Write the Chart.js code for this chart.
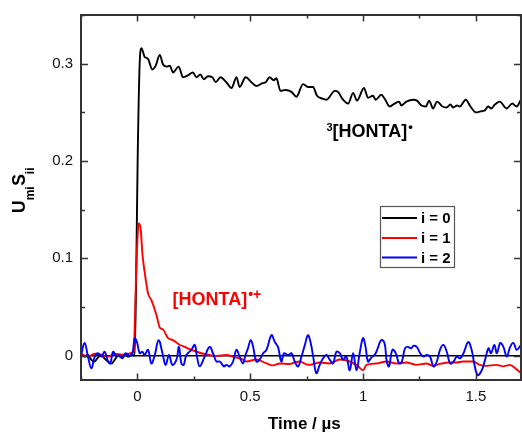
<!DOCTYPE html>
<html>
<head>
<meta charset="utf-8">
<script src="https://cdn.jsdelivr.net/npm/chart.js@4.4.1/dist/chart.umd.min.js"></script>
<style>
  html, body { margin: 0; padding: 0; background: #fff; }
  #wrap { width: 522px; height: 433px; position: relative; }
</style>
</head>
<body>
<div id="wrap"><canvas id="chart"></canvas></div>
<script>
// Time axis (µs) and U_mi S_ii traces for i = 0, 1, 2
const blackT = [
  -0.25, -0.235, -0.22, -0.205, -0.19, -0.175, -0.16, -0.145, -0.13, -0.115,
  -0.1, -0.085, -0.07, -0.055, -0.04, -0.025, -0.012, -0.0045, 0.001, 0.01,
  0.018, 0.032, 0.047, 0.066, 0.081, 0.099, 0.114, 0.131, 0.143, 0.158,
  0.183, 0.202, 0.224, 0.246, 0.262, 0.279, 0.294, 0.313, 0.332, 0.347,
  0.368, 0.394, 0.417, 0.439, 0.453, 0.48, 0.505, 0.527, 0.554, 0.569,
  0.586, 0.604, 0.616, 0.634, 0.657, 0.683, 0.705, 0.734, 0.756, 0.778,
  0.796, 0.82, 0.838, 0.875, 0.889, 0.911, 0.934, 0.956, 0.973, 1.004,
  1.022, 1.044, 1.056, 1.081, 1.096, 1.118, 1.14, 1.16, 1.17, 1.192,
  1.222, 1.239, 1.259, 1.278, 1.293, 1.31, 1.328, 1.352, 1.37, 1.387,
  1.399, 1.417, 1.429, 1.455, 1.476, 1.5, 1.52, 1.54, 1.554, 1.569,
  1.584, 1.606, 1.636, 1.662, 1.68, 1.7
];
const blackV = [
  0.002, -0.001, 0.001, -0.004, -0.006, -0.002, 0.001, -0.003, -0.006, -0.008,
  -0.004, 0, -0.002, 0.001, -0.001, 0.001, 0, 0.1, 0.2, 0.3,
  0.316, 0.307, 0.305, 0.294, 0.298, 0.309, 0.299, 0.297, 0.298, 0.291,
  0.297, 0.286, 0.288, 0.291, 0.286, 0.289, 0.284, 0.287, 0.286, 0.281,
  0.286, 0.281, 0.275, 0.286, 0.276, 0.286, 0.281, 0.277, 0.28, 0.281,
  0.286, 0.283, 0.285, 0.272, 0.273, 0.271, 0.266, 0.279, 0.276, 0.276,
  0.267, 0.264, 0.263, 0.272, 0.271, 0.263, 0.259, 0.27, 0.262, 0.275,
  0.265, 0.267, 0.263, 0.268, 0.264, 0.256, 0.259, 0.261, 0.257, 0.261,
  0.263, 0.262, 0.257, 0.256, 0.262, 0.254, 0.261, 0.256, 0.255, 0.258,
  0.255, 0.257, 0.256, 0.263, 0.256, 0.25, 0.251, 0.252, 0.256, 0.254,
  0.258, 0.261, 0.254, 0.259, 0.256, 0.263
];

const redT = [
  -0.25, -0.22, -0.19, -0.16, -0.13, -0.1, -0.07, -0.04, -0.025, -0.016,
  -0.009, -0.002, 0.006, 0.015, 0.022, 0.032, 0.047, 0.062, 0.084, 0.099,
  0.113, 0.136, 0.158, 0.188, 0.21, 0.232, 0.262, 0.291, 0.32, 0.35,
  0.394, 0.424, 0.468, 0.483, 0.527, 0.572, 0.601, 0.631, 0.675, 0.719,
  0.749, 0.764, 0.808, 0.852, 0.897, 0.941, 0.978, 1.0, 1.015, 1.059,
  1.104, 1.148, 1.192, 1.237, 1.281, 1.31, 1.34, 1.384, 1.414, 1.443,
  1.488, 1.517, 1.547, 1.591, 1.621, 1.65, 1.68, 1.7
];
const redV = [
  0.002, -0.001, 0.002, 0.001, -0.001, 0.002, 0.001, 0.002, 0.003, 0.005,
  0.057, 0.108, 0.136, 0.129, 0.105, 0.086, 0.064, 0.057, 0.042, 0.029,
  0.027, 0.018, 0.016, 0.011, 0.009, 0.0066, 0.004, 0.002, 0.0007, -0.0003,
  0.0007, -0.001, -0.004, -0.006, -0.004, -0.008, -0.01, -0.008, -0.0085, -0.006,
  -0.009, -0.0095, -0.007, -0.008, -0.004, -0.006, -0.011, -0.015, -0.0095, -0.008,
  -0.006, -0.008, -0.007, -0.0095, -0.008, -0.0105, -0.0085, -0.007, -0.007, -0.006,
  -0.006, -0.0095, -0.0105, -0.0095, -0.011, -0.0095, -0.014, -0.018
];

const blueT = [
  -0.25, -0.234, -0.219, -0.204, -0.189, -0.175, -0.16, -0.145, -0.13, -0.12,
  -0.108, -0.093, -0.082, -0.066, -0.052, -0.034, -0.022, -0.012, -0.002, 0.01,
  0.022, 0.032, 0.047, 0.062, 0.077, 0.094, 0.111, 0.125, 0.14, 0.155,
  0.173, 0.184, 0.195, 0.205, 0.217, 0.239, 0.254, 0.264, 0.276, 0.298,
  0.32, 0.335, 0.35, 0.365, 0.383, 0.394, 0.409, 0.424, 0.439, 0.453,
  0.468, 0.479, 0.49, 0.502, 0.513, 0.527, 0.542, 0.557, 0.572, 0.594,
  0.609, 0.623, 0.638, 0.65, 0.668, 0.683, 0.697, 0.712, 0.727, 0.742,
  0.756, 0.768, 0.779, 0.793, 0.808, 0.823, 0.838, 0.852, 0.867, 0.882,
  0.897, 0.911, 0.926, 0.941, 0.956, 0.971, 0.985, 1.0, 1.011, 1.022,
  1.034, 1.056, 1.08, 1.095, 1.105, 1.115, 1.13, 1.145, 1.16, 1.172,
  1.186, 1.198, 1.213, 1.223, 1.238, 1.253, 1.268, 1.282, 1.297, 1.312,
  1.327, 1.341, 1.356, 1.371, 1.386, 1.401, 1.415, 1.43, 1.445, 1.466,
  1.481, 1.494, 1.508, 1.526, 1.541, 1.556, 1.567, 1.582, 1.593, 1.608,
  1.622, 1.637, 1.652, 1.667, 1.681, 1.7
];
const blueV = [
  0.0, 0.013, -0.001, -0.013, -0.001, 0.0025, -0.001, 0.004, -0.006, -0.008,
  0.004, -0.001, 0.0007, -0.0027, 0.0025, -0.0003, 0.0025, 0.018, 0.014, 0.0025,
  0.004, 0.0007, 0.006, -0.008, 0.0007, 0.016, 0.0025, -0.0095, 0.0007, -0.0095,
  -0.004, 0.009, -0.008, -0.0095, 0.0007, 0.006, 0.011, -0.001, -0.011, -0.001,
  0.009, 0.0025, -0.006, -0.006, -0.011, -0.0095, -0.011, -0.006, 0.006, -0.001,
  -0.008, 0.0007, 0.0076, 0.016, 0.009, -0.006, -0.004, 0.0025, 0.006, 0.021,
  0.014, 0.009, -0.006, 0.0025, 0.0007, 0.0025, -0.006, -0.011, -0.001, 0.011,
  0.021, 0.013, -0.001, -0.018, -0.0095, -0.0027, 0.0007, -0.004, -0.008, 0.004,
  0.0025, -0.004, -0.001, -0.015, 0.0025, -0.015, 0.0025, 0.018, 0.009, -0.006,
  -0.0027, 0.0025, 0.016, 0.013, -0.006, -0.011, 0.006, 0.0025, -0.008, -0.006,
  0.0076, 0.009, 0.0076, 0.01, 0.009, 0.0025, -0.001, 0.0007, -0.001, -0.011,
  -0.006, 0.006, 0.011, 0.004, -0.008, -0.006, -0.001, -0.0027, 0.0025, 0.014,
  0.006, -0.0095, -0.02, -0.015, -0.004, 0.0076, 0.0025, 0.011, 0.0025, 0.013,
  0.009, -0.001, 0.009, 0.013, 0.006, 0.011
];

const seriesLabels = ["i = 0", "i = 1", "i = 2"];
const seriesColors = ["#000000", "#ff0000", "#0000ff"];

const xTickValues = [-0.25, 0, 0.25, 0.5, 0.75, 1, 1.25, 1.5];
const yTickValues = [0, 0.05, 0.1, 0.15, 0.2, 0.25, 0.3, 0.35];

const FONT = 'Arial, "Liberation Sans", sans-serif';

function toPoints(ts, vs) {
  return ts.map((t, i) => ({ x: t, y: vs[i] }));
}

function isMajor(v, step) {
  const r = v / step;
  return Math.abs(r - Math.round(r)) < 1e-6;
}

// Box frame, inward ticks on all four sides and the zero line
const framePlugin = {
  id: "frame",
  beforeDatasetsDraw(chart) {
    const { ctx, chartArea: a, scales } = chart;
    const y0 = scales.y.getPixelForValue(0);
    ctx.save();
    ctx.strokeStyle = "#000";
    ctx.lineWidth = 1.5;
    ctx.beginPath();
    ctx.moveTo(a.left, y0);
    ctx.lineTo(a.right, y0);
    ctx.stroke();
    ctx.restore();
  },
  afterDatasetsDraw(chart) {
    const { ctx, chartArea: a, scales } = chart;
    ctx.save();
    ctx.strokeStyle = "#333";
    ctx.lineWidth = 2;
    ctx.strokeRect(a.left, a.top, a.right - a.left, a.bottom - a.top);

    ctx.lineWidth = 1.5;
    ctx.beginPath();
    xTickValues.forEach((v) => {
      const px = Math.round(scales.x.getPixelForValue(v)) + 0.5;
      const len = isMajor(v, 0.5) ? 6.5 : 3.5;
      ctx.moveTo(px, a.bottom);
      ctx.lineTo(px, a.bottom - len);
      ctx.moveTo(px, a.top);
      ctx.lineTo(px, a.top + len);
    });
    yTickValues.forEach((v) => {
      const py = Math.round(scales.y.getPixelForValue(v)) + 0.5;
      const len = isMajor(v, 0.1) ? 7 : 4;
      ctx.moveTo(a.left, py);
      ctx.lineTo(a.left + len, py);
      ctx.moveTo(a.right, py);
      ctx.lineTo(a.right - len, py);
    });
    ctx.stroke();
    ctx.restore();
  },
  afterDraw(chart) {
    const ctx = chart.ctx;
    ctx.save();
    ctx.fillStyle = "#000";
    ctx.textBaseline = "alphabetic";

    // y axis title: U_mi S_ii, rotated
    ctx.translate(25, 213);
    ctx.rotate(-Math.PI / 2);
    let x = 0;
    const parts = [["U", false], ["mi", true], ["S", false], ["ii", true]];
    parts.forEach(([txt, sub]) => {
      ctx.font = sub ? "bold 12px " + FONT : "bold 17.5px " + FONT;
      ctx.fillText(txt, x, sub ? 8.5 : 0);
      x += ctx.measureText(txt).width + (sub ? 0.5 : 0);
    });
    ctx.restore();

    // x axis title
    ctx.save();
    ctx.fillStyle = "#000";
    ctx.font = "bold 17px " + FONT;
    ctx.textAlign = "left";
    ctx.fillText("Time / µs", 268, 429);

    // triplet label
    ctx.font = "bold 11px " + FONT;
    ctx.fillText("3", 326.5, 131);
    ctx.font = "bold 18px " + FONT;
    ctx.fillText("[HONTA]", 332.5, 137);
    let w = ctx.measureText("[HONTA]").width;
    ctx.font = "bold 13px " + FONT;
    ctx.fillText("•", 332.5 + w + 1, 131);

    // radical cation label
    ctx.fillStyle = "#ff0000";
    ctx.font = "bold 18px " + FONT;
    ctx.fillText("[HONTA]", 172.5, 305);
    w = ctx.measureText("[HONTA]").width;
    ctx.font = "bold 14px " + FONT;
    ctx.fillText("•+", 172.5 + w + 1, 299);

    // legend box
    ctx.strokeStyle = "#555";
    ctx.lineWidth = 1.2;
    ctx.strokeRect(380.5, 206.5, 74, 61);
    const rows = [218, 238, 257.5];
    ctx.font = "bold 15px " + FONT;
    ctx.textBaseline = "middle";
    rows.forEach((ry, i) => {
      ctx.strokeStyle = seriesColors[i];
      ctx.lineWidth = 1.8;
      ctx.beginPath();
      ctx.moveTo(382, ry);
      ctx.lineTo(417, ry);
      ctx.stroke();
      ctx.fillStyle = "#000";
      ctx.fillText(seriesLabels[i], 421, ry + 1);
    });
    ctx.restore();
  }
};

const traces = [
  [blackT, blackV],
  [redT, redV],
  [blueT, blueV]
];

// blue drawn on top, then red, then black
const drawOrder = [2, 1, 0];

new Chart(document.getElementById("chart"), {
  type: "line",
  data: {
    datasets: traces.map(([ts, vs], i) => ({
      label: seriesLabels[i],
      data: toPoints(ts, vs),
      borderColor: seriesColors[i],
      borderWidth: 1.9,
      pointRadius: 0,
      cubicInterpolationMode: i === 2 ? "default" : "monotone",
      tension: i === 2 ? 0.4 : 0,
      fill: false,
      order: drawOrder[i]
    }))
  },
  options: {
    responsive: true,
    maintainAspectRatio: false,
    animation: false,
    events: [],
    layout: { padding: { top: 15, right: 1, left: 0, bottom: 0 } },
    plugins: {
      legend: { display: false },
      tooltip: { enabled: false }
    },
    scales: {
      x: {
        type: "linear",
        min: -0.25,
        max: 1.7,
        grid: { display: false },
        border: { display: false },
        afterBuildTicks: (scale) => {
          scale.ticks = xTickValues.map((v) => ({ value: v }));
        },
        afterFit: (scale) => { scale.height = 53; },
        ticks: {
          autoSkip: false,
          maxRotation: 0,
          padding: 0,
          color: "#111",
          font: { family: FONT, size: 15 },
          callback: (v) => (isMajor(v, 0.5) ? String(v) : "")
        }
      },
      y: {
        min: -0.025,
        max: 0.35,
        grid: { display: false },
        border: { display: false },
        afterBuildTicks: (scale) => {
          scale.ticks = yTickValues.map((v) => ({ value: v }));
        },
        afterFit: (scale) => { scale.width = 81; },
        ticks: {
          autoSkip: false,
          padding: 0,
          color: "#111",
          font: { family: FONT, size: 15 },
          callback: (v) => (isMajor(v, 0.1) && v < 0.34 ? (v === 0 ? "0" : v.toFixed(1)) : "")
        }
      }
    }
  },
  plugins: [framePlugin]
});
</script>
</body>
</html>
